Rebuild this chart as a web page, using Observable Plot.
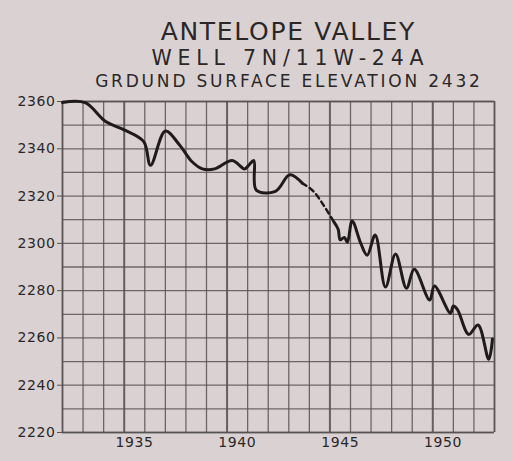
<!DOCTYPE html>
<html>
<head>
<meta charset="utf-8">
<script src="https://cdn.jsdelivr.net/npm/d3@7"></script>
<script src="https://cdn.jsdelivr.net/npm/@observablehq/plot@0.6"></script>
<style>
  html, body { margin: 0; padding: 0; background: #dad2d2; }
  #wrap { width: 513px; height: 461px; position: relative; overflow: hidden; background: #dad2d2;
          font-family: "DejaVu Sans", sans-serif; color: #2b2727; }
  #head { position: relative; width: 513px; height: 92px; }
  .t { position: absolute; left: 62px; width: 451px; text-align: center; white-space: nowrap; line-height: 1; }
  #t1 { top: 19px; font-size: 25px; letter-spacing: 1.7px; padding-left: 1.7px; box-sizing: border-box; }
  #t2 { top: 48px; font-size: 20.5px; letter-spacing: 5.8px; padding-left: 5.8px; box-sizing: border-box; }
  #t3 { top: 73px; font-size: 17px; letter-spacing: 2.8px; padding-left: 2.8px; box-sizing: border-box; }
  #chart svg text { letter-spacing: 0.6px; }
</style>
</head>
<body>
<div id="wrap">
  <div id="head">
    <div class="t" id="t1">ANTELOPE VALLEY</div>
    <div class="t" id="t2">WELL 7N/11W-24A</div>
    <div class="t" id="t3">GRDUND SURFACE ELEVATION 2432</div>
  </div>
  <div id="chart"></div>
</div>
<script>
// --- data ---
const years1  = [1932.0, 1933.1, 1934.1, 1935.0, 1935.95, 1936.28, 1937.0, 1937.7, 1938.3, 1938.8, 1939.4, 1940.25, 1940.85, 1941.05, 1941.3, 1941.42, 1942.35, 1943.05, 1943.65];
const levels1 = [2359.6, 2359.5, 2351.5, 2348, 2343, 2333, 2347.5, 2341.5, 2334.5, 2331.5, 2331.5, 2335, 2331.5, 2333, 2335, 2322.5, 2322, 2329, 2325.5];

const yearsDashed  = [1943.65, 1944.2, 1944.7, 1945.2];
const levelsDashed = [2325.5, 2322, 2316, 2309];

const years2  = [1945.2, 1945.4, 1945.5, 1945.7, 1945.85, 1946.08, 1946.5, 1946.81, 1947.2, 1947.7, 1948.19, 1948.72, 1949.1, 1949.85, 1950.08, 1950.86, 1951.0, 1951.2, 1951.75, 1952.2, 1952.72, 1952.9];
const levels2 = [2309, 2306, 2301.5, 2302.5, 2300.5, 2309.5, 2300, 2295, 2303.5, 2281.5, 2295.5, 2281, 2289, 2276, 2282, 2270.5, 2273.5, 2272, 2261.5, 2265.5, 2251, 2259.5];

const yTicks = [2220, 2240, 2260, 2280, 2300, 2320, 2340, 2360];
const xTickYears = [1935, 1940, 1945, 1950];
const gridYears = d3.range(1932, 1954);
const gridLevels = d3.range(2220, 2361, 10);

const seg1 = years1.map((x, i) => ({year: x, level: levels1[i]}));
const segD = yearsDashed.map((x, i) => ({year: x, level: levelsDashed[i]}));
const seg2 = years2.map((x, i) => ({year: x, level: levels2[i]}));

const gridColor = "#585353";
const ink = "#1f1b1b";

const chart = Plot.plot({
  width: 513,
  height: 369,
  marginTop: 9,
  marginBottom: 29,
  marginLeft: 62,
  marginRight: 19,
  style: {background: "transparent", fontFamily: "DejaVu Sans, sans-serif", fontSize: "14px", color: "#2b2727", overflow: "visible"},
  x: {domain: [1932, 1953], axis: null},
  y: {domain: [2220, 2360], axis: null, label: null},
  marks: [
    Plot.ruleX(gridYears.filter(y => y % 5 !== 0), {stroke: gridColor, strokeWidth: 1.3, strokeOpacity: 0.85}),
    Plot.ruleX(gridYears.filter(y => y % 5 === 0), {stroke: gridColor, strokeWidth: 2, strokeOpacity: 0.9}),
    Plot.ruleY(gridLevels, {stroke: gridColor, strokeWidth: 1.3, strokeOpacity: 0.85}),
    Plot.ruleX([1932, 1953], {stroke: gridColor, strokeWidth: 1.6}),
    Plot.ruleY([2220, 2360], {stroke: gridColor, strokeWidth: 1.6}),
    Plot.axisY(yTicks, {tickSize: 5, tickPadding: 2, fontSize: 14, fill: "#2b2727", stroke: gridColor, tickFormat: d => String(d), label: null}),
    Plot.axisX(xTickYears.map(y => y + 0.5), {tickSize: 0, tickPadding: 5, fontSize: 14, fill: "#2b2727", tickFormat: d => String(Math.floor(d)), label: null}),
    Plot.line(seg1, {x: "year", y: "level", stroke: ink, strokeWidth: 3, curve: "catmull-rom"}),
    Plot.line(segD, {x: "year", y: "level", stroke: ink, strokeWidth: 2.5, strokeDasharray: "5,4", curve: "catmull-rom"}),
    Plot.line(seg2, {x: "year", y: "level", stroke: ink, strokeWidth: 3, curve: "catmull-rom"})
  ]
});
document.getElementById("chart").appendChild(chart);
</script>
</body>
</html>
